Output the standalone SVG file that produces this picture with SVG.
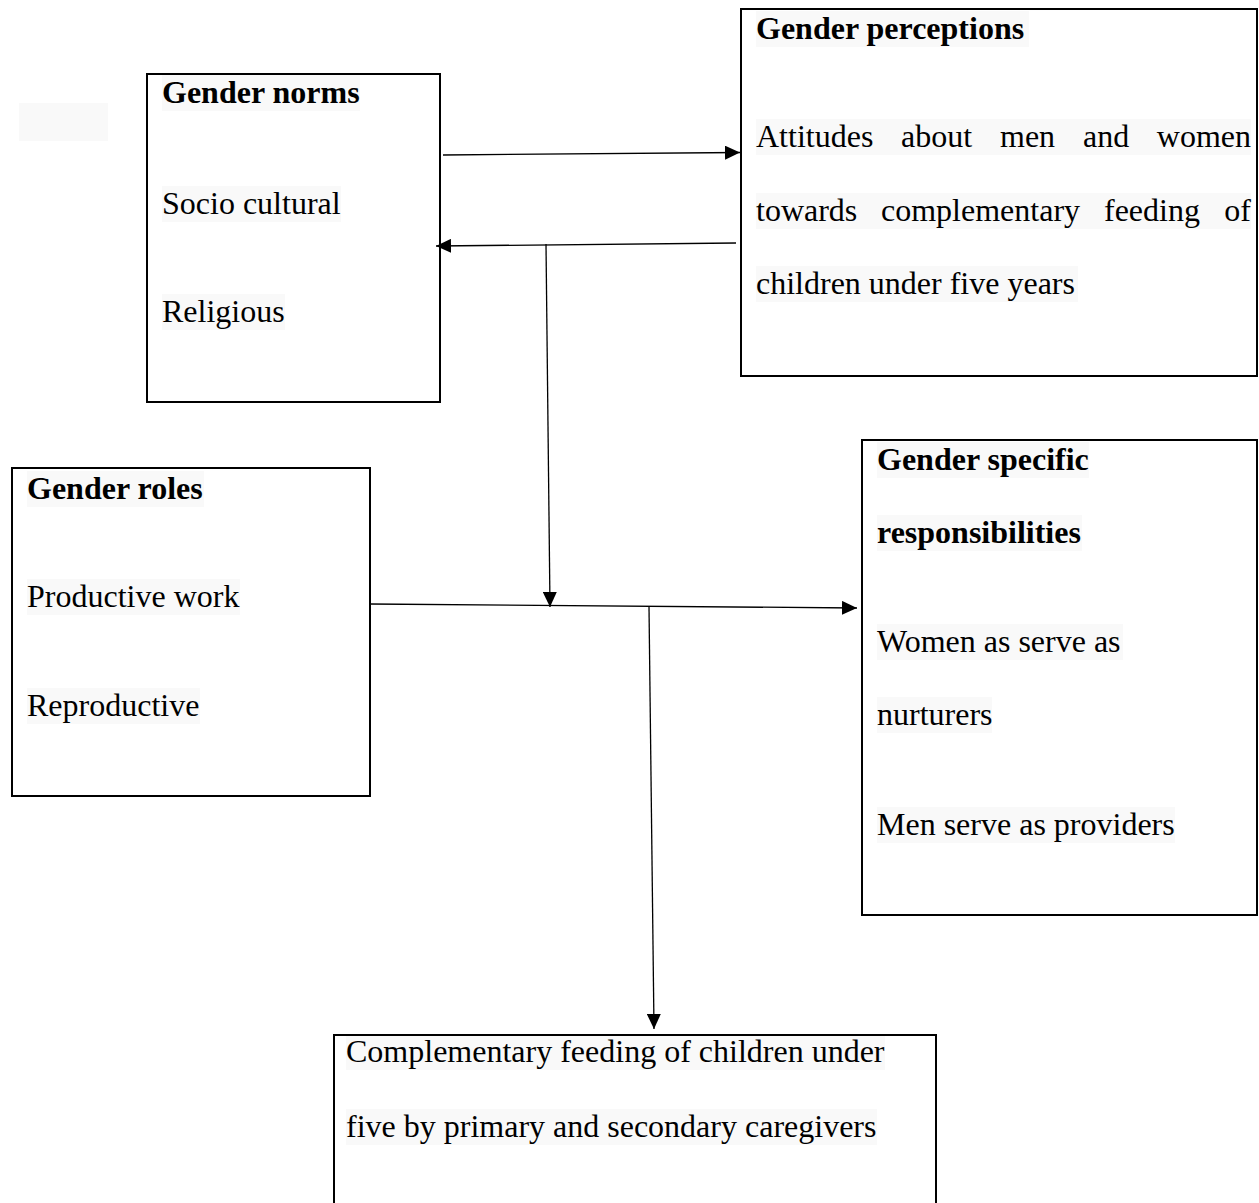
<svg xmlns="http://www.w3.org/2000/svg" width="1259" height="1203" viewBox="0 0 1259 1203">
  <style>
    .box { fill: none; stroke: #000; stroke-width: 2; }
    .hl { fill: #f9f9f9; }
    .t { font-family: "Liberation Serif", "Times New Roman", serif; font-size: 32px; fill: #000; }
    .b { font-weight: bold; }
    .conn { stroke: #000; stroke-width: 1.3; fill: none; }
  </style>
  <defs>
    <marker id="arrow" viewBox="0 0 15 14" refX="15" refY="7" markerWidth="15" markerHeight="14" markerUnits="userSpaceOnUse" orient="auto">
      <path d="M0,0 L15,7 L0,14 z" fill="#000"/>
    </marker>
  </defs>
  <rect width="1259" height="1203" fill="#fff"/>
  <rect x="19" y="103" width="89" height="38" class="hl"/>

  <g id="gender-norms">
    <rect x="162" y="75" width="198" height="36" class="hl"/>
    <rect x="162" y="186" width="179" height="36" class="hl"/>
    <rect x="162" y="294" width="123" height="36" class="hl"/>
    <rect x="147" y="74" width="293" height="328" class="box"/>
    <text x="162" y="103" class="t b">Gender norms</text>
    <text x="162" y="214" class="t">Socio cultural</text>
    <text x="162" y="322" class="t">Religious</text>
  </g>

  <g id="gender-perceptions">
    <rect x="756" y="11" width="273" height="36" class="hl"/>
    <rect x="756" y="119" width="495" height="36" class="hl"/>
    <rect x="756" y="193" width="495" height="36" class="hl"/>
    <rect x="756" y="266" width="322" height="36" class="hl"/>
    <rect x="741" y="9" width="516" height="367" class="box"/>
    <text x="756" y="39" class="t b">Gender perceptions</text>
    <text y="147" class="t"><tspan x="756">Attitudes</tspan><tspan x="901">about</tspan><tspan x="1000">men</tspan><tspan x="1083">and</tspan></text>
    <text x="1251" y="147" class="t" text-anchor="end">women</text>
    <text y="221" class="t"><tspan x="756">towards</tspan><tspan x="881">complementary</tspan><tspan x="1104">feeding</tspan></text>
    <text x="1251" y="221" class="t" text-anchor="end">of</text>
    <text x="756" y="294" class="t">children under five years</text>
  </g>

  <g id="gender-roles">
    <rect x="27" y="471" width="177" height="36" class="hl"/>
    <rect x="27" y="579" width="213" height="36" class="hl"/>
    <rect x="27" y="688" width="173" height="36" class="hl"/>
    <rect x="12" y="468" width="358" height="328" class="box"/>
    <text x="27" y="499" class="t b">Gender roles</text>
    <text x="27" y="607" class="t">Productive work</text>
    <text x="27" y="716" class="t">Reproductive</text>
  </g>

  <g id="gender-specific-responsibilities">
    <rect x="877" y="442" width="212" height="36" class="hl"/>
    <rect x="877" y="515" width="205" height="36" class="hl"/>
    <rect x="877" y="624" width="246" height="36" class="hl"/>
    <rect x="877" y="697" width="115" height="36" class="hl"/>
    <rect x="877" y="807" width="298" height="36" class="hl"/>
    <rect x="862" y="440" width="395" height="475" class="box"/>
    <text x="877" y="470" class="t b">Gender specific</text>
    <text x="877" y="543" class="t b">responsibilities</text>
    <text x="877" y="652" class="t">Women as serve as</text>
    <text x="877" y="725" class="t">nurturers</text>
    <text x="877" y="835" class="t">Men serve as providers</text>
  </g>

  <g id="complementary-feeding">
    <rect x="346" y="1034" width="539" height="36" class="hl"/>
    <rect x="346" y="1109" width="531" height="36" class="hl"/>
    <rect x="334" y="1035" width="602" height="200" class="box"/>
    <text x="346" y="1062" class="t">Complementary feeding of children under</text>
    <text x="346" y="1137" class="t">five by primary and secondary caregivers</text>
  </g>

  <g id="connectors">
    <line x1="443" y1="155" x2="740" y2="152.5" class="conn" marker-end="url(#arrow)"/>
    <line x1="736" y1="243" x2="436" y2="246" class="conn" marker-end="url(#arrow)"/>
    <line x1="546" y1="244" x2="550" y2="607" class="conn" marker-end="url(#arrow)"/>
    <line x1="370" y1="604" x2="857" y2="608" class="conn" marker-end="url(#arrow)"/>
    <line x1="649" y1="607" x2="654" y2="1029" class="conn" marker-end="url(#arrow)"/>
  </g>
</svg>
